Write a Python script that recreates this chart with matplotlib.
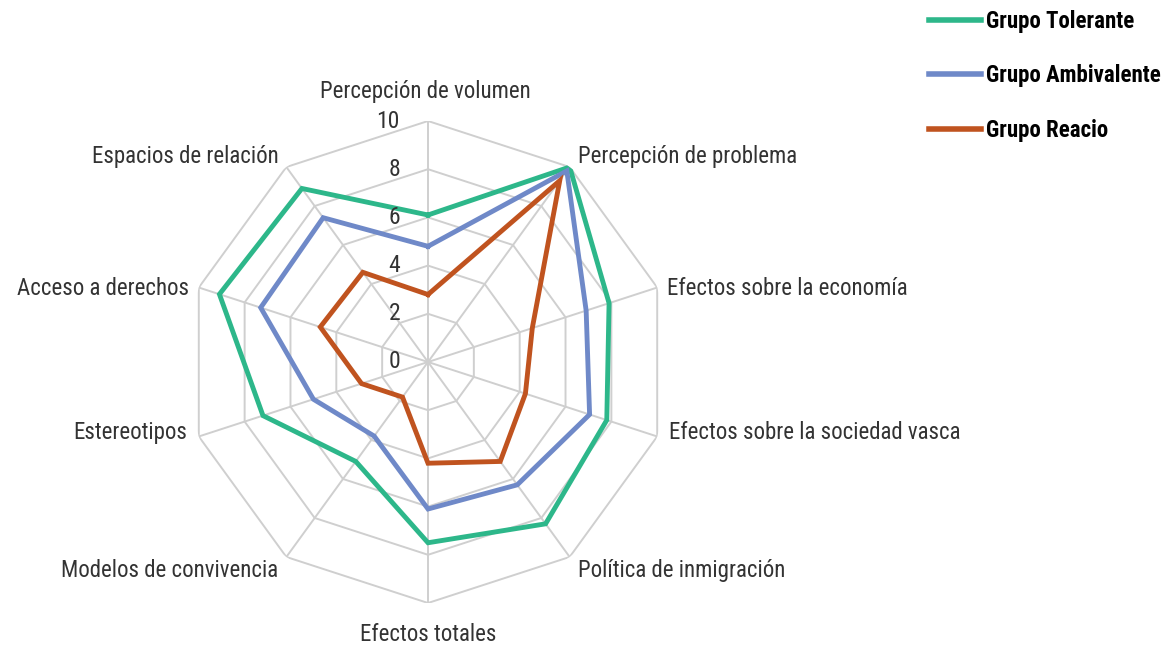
import numpy as np
import matplotlib.pyplot as plt
from matplotlib import font_manager

# --- Data ---
categories = ["Percepción de volumen", "Percepción de problema", "Efectos sobre la economía",
              "Efectos sobre la sociedad vasca", "Política de inmigración", "Efectos totales",
              "Modelos de convivencia", "Estereotipos", "Acceso a derechos", "Espacios de relación"]
tolerante = [6.1, 10.0, 7.9, 7.8, 8.3, 7.5, 5.1, 7.2, 9.1, 8.9]
ambivalente = [4.8, 9.8, 6.9, 7.05, 6.3, 6.1, 3.8, 5.0, 7.3, 7.4]
reacio = [2.8, 9.3, 4.55, 4.25, 5.1, 4.2, 1.8, 2.9, 4.7, 4.6]
series_names = ["Grupo Tolerante", "Grupo Ambivalente", "Grupo Reacio"]
ticks = [0, 2, 4, 6, 8, 10]

colors = ["#2DB78A", "#6F89C8", "#C0531F"]

# --- Font ---
installed = {f.name for f in font_manager.fontManager.ttflist}
fam = [f for f in ["Roboto Condensed", "Liberation Sans Narrow", "Open Sans Condensed"] if f in installed]
plt.rcParams['font.family'] = fam + ["DejaVu Sans"]

fig = plt.figure(figsize=(11.7, 6.47), dpi=100)
W, H = 1170, 647
cx, cy, R = 428, 362, 241
ax = fig.add_axes([(cx - R) / W, (H - cy - R) / H, 2 * R / W, 2 * R / H], projection='polar')
ax.set_theta_zero_location('N')
ax.set_theta_direction(-1)
ax.set_ylim(0, 10)
ax.set_xticks([])
ax.set_yticks([])
ax.grid(False)
ax.spines['polar'].set_visible(False)
ax.patch.set_alpha(0)

n = len(categories)
angles = np.arange(n) * 2 * np.pi / n
closed = np.append(angles, angles[0])

# polygon grid
for t in ticks[1:]:
    ax.plot(closed, [t] * (n + 1), color="#CFCFCF", lw=1.4, zorder=1)
for a in angles:
    ax.plot([a, a], [0, 10], color="#CFCFCF", lw=1.4, zorder=1)

# series
for vals, name, c in zip([tolerante, ambivalente, reacio], series_names, colors):
    ax.plot(closed, vals + vals[:1], color=c, lw=3.5, label=name, zorder=3,
            solid_joinstyle='miter')

# tick labels
for t in ticks:
    ax.annotate(str(t), xy=(0, t), xytext=(-28, 0), textcoords='offset pixels',
                ha='right', va='center', fontsize=17, color="#333333", zorder=4)

# category labels
offsets = [(-3, 18, 'center', 'bottom'),
           (8, -1, 'left', 'bottom'),
           (10, -1, 'left', 'center'),
           (12, 4, 'left', 'center'),
           (8, -2, 'left', 'top'),
           (0, -20, 'center', 'top'),
           (-8, -2, 'right', 'top'),
           (-12, 4, 'right', 'center'),
           (-10, -1, 'right', 'center'),
           (-8, -1, 'right', 'bottom')]
for a, lab, (dx, dy, ha, va) in zip(angles, categories, offsets):
    ax.annotate(lab, xy=(a, 10), xytext=(dx, dy), textcoords='offset pixels',
                ha=ha, va=va, fontsize=16.5, color="#333333", annotation_clip=False)

# legend
leg = fig.legend(loc='upper left', bbox_to_anchor=(908 / W, 1 + 11 / H), frameon=False,
                 handlelength=2.3, handletextpad=0.2, labelspacing=1.38,
                 prop={'weight': 'bold', 'size': 16.5})
for line in leg.get_lines():
    line.set_linewidth(4)

fig.savefig("out.png", dpi=100)
